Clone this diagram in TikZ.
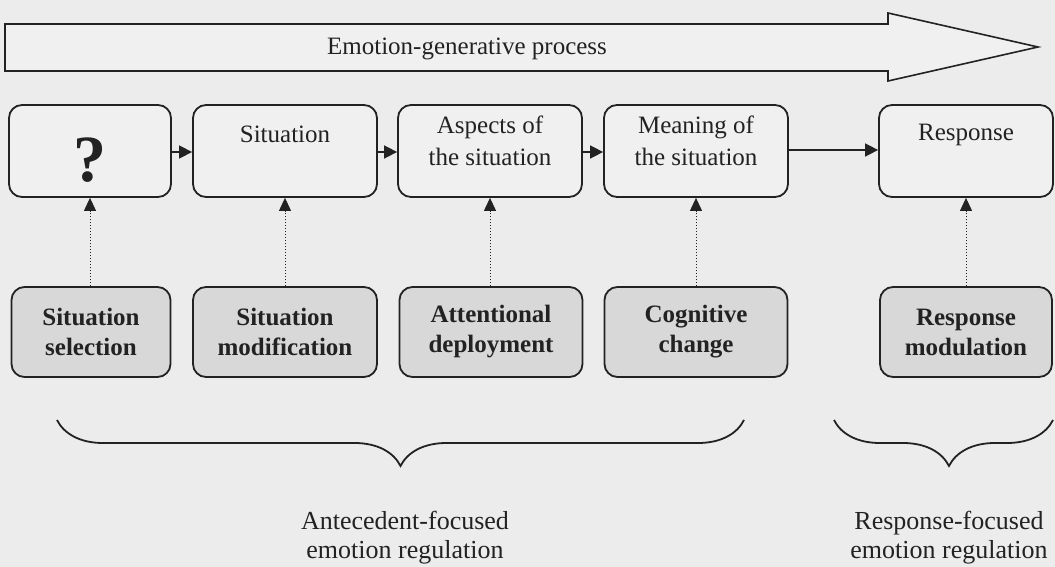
\documentclass[tikz,border=0pt]{standalone}
\usepackage{fontspec}
\setmainfont{Liberation Serif}
\usetikzlibrary{arrows.meta,decorations.pathreplacing}
\definecolor{bg}{HTML}{ECECEC}
\definecolor{topfill}{HTML}{F0F0F0}
\definecolor{botfill}{HTML}{D8D8D8}
\definecolor{ink}{HTML}{222222}
\tikzset{
  box/.style={draw=ink, line width=1.8pt, rounded corners=13pt, inner sep=0pt},
  topbox/.style={box, fill=topfill},
  botbox/.style={box, fill=botfill, font=\fontsize{25}{30}\selectfont\bfseries, align=center, text=ink},
  toptext/.style={font=\fontsize{25}{32}\selectfont, align=center, text=ink, inner sep=0pt},
  flow/.style={draw=ink, line width=1.6pt, -{Triangle[length=13pt,width=13pt]}},
  reg/.style={draw=ink, line width=1pt, dotted, -{Triangle[length=13pt,width=12pt]}},
  brc/.style={draw=ink, line width=1.8pt, decorate, decoration={brace, mirror, amplitude=46pt}},
  label/.style={font=\fontsize{26}{29}\selectfont, align=center, text=ink, inner sep=0pt}
}
\begin{document}
\begin{tikzpicture}[x=1pt,y=-1pt]
\fill[bg] (0,0) rectangle (1055,567);
\useasboundingbox (0,0) rectangle (1055,567);
% big process arrow
\draw[ink, line width=1.6pt, fill=topfill, line join=miter]
  (5,24) -- (888,24) -- (888,13) -- (1038,47) -- (888,81) -- (888,71) -- (5,71) -- cycle;
\node[toptext] (proc) at (467,49) {Emotion-generative process};
% top boxes
\node[topbox, minimum width=162pt, minimum height=92pt] (q) at (90,151) {};
\node[font=\fontsize{66}{66}\selectfont\bfseries, text=ink, inner sep=0pt, anchor=base] (qm) at (90,182) {?};
\node[topbox, minimum width=184pt, minimum height=92pt] (sit) at (285,151) {};
\node[toptext, anchor=north] (sitt) at (285,126) {Situation};
\node[topbox, minimum width=184pt, minimum height=92pt] (asp) at (490,151) {};
\node[toptext, anchor=north] (aspt) at (490,116) {Aspects of\\the situation};
\node[topbox, minimum width=184pt, minimum height=92pt] (mea) at (696,151) {};
\node[toptext, anchor=north] (meat) at (696,116) {Meaning of\\the situation};
\node[topbox, minimum width=174pt, minimum height=92pt] (res) at (966,151) {};
\node[toptext, anchor=north] (rest) at (966,124) {Response};
% flow arrows
\draw[flow] (q.east |- 0,152) -- (sit.west |- 0,152);
\draw[flow] (sit.east |- 0,152) -- (asp.west |- 0,152);
\draw[flow] (asp.east |- 0,152) -- (mea.west |- 0,152);
\draw[flow] (mea.east |- 0,150) -- (res.west |- 0,150);
% bottom boxes
\node[botbox, minimum width=159pt, minimum height=90pt] (ss) at (91,332) {Situation\\selection};
\node[botbox, minimum width=184pt, minimum height=90pt] (sm) at (285,332) {Situation\\modification};
\node[botbox, minimum width=183pt, minimum height=90pt] (ad) at (491,332) {Attentional\\deployment};
\node[botbox, minimum width=183pt, minimum height=90pt] (cc) at (696,332) {Cognitive\\change};
\node[botbox, minimum width=172pt, minimum height=90pt] (rm) at (966,332) {Response\\modulation};
% regulation arrows
\draw[reg] (ss.north -| q.south) -- (q.south);
\draw[reg] (sm.north) -- (sit.south);
\draw[reg] (ad.north -| asp.south) -- (asp.south);
\draw[reg] (cc.north) -- (mea.south);
\draw[reg] (rm.north) -- (res.south);
% braces
\coordinate (b1s) at (57,420);
\coordinate (b1e) at (744,420);
\coordinate (b2s) at (834,420);
\coordinate (b2e) at (1053,420);
\draw[brc] (b1s) -- (b1e);
\draw[brc, decoration={brace, mirror, amplitude=46pt, aspect=0.525}] (b2s) -- (b2e);
\node[label] (ant) at (405,538) {Antecedent-focused\\emotion regulation};
\node[label] (rf) at (949,538) {Response-focused\\emotion regulation};
\end{tikzpicture}
\end{document}
